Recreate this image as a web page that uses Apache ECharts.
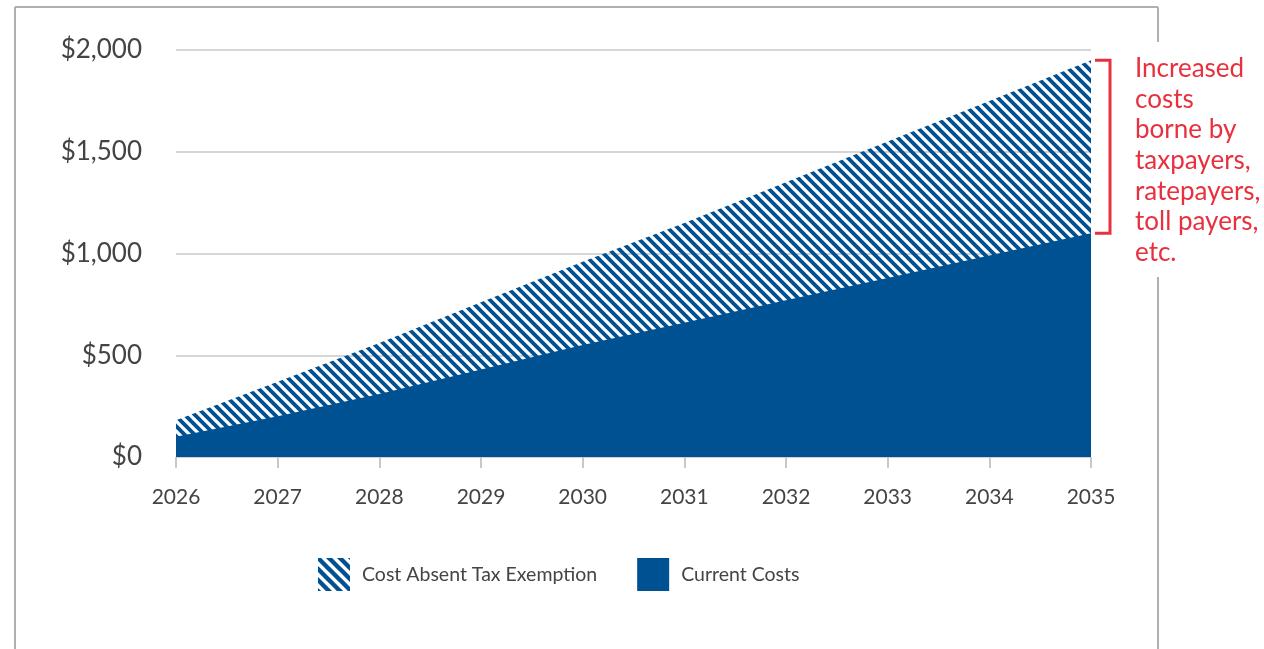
<!DOCTYPE html>
<html><head><meta charset="utf-8">
<script src="https://cdn.jsdelivr.net/npm/echarts@6/dist/echarts.min.js"></script>
<style>html,body{margin:0;padding:0;background:#fff}#c{width:1264px;height:649px}</style>
</head><body><div id="c"></div>
<script>
const years = ['2026','2027','2028','2029','2030','2031','2032','2033','2034','2035'];
const costAbsentExemption = [180, 370, 560, 760, 960, 1150, 1350, 1550, 1750, 1950];
const currentCosts = [100, 200, 310, 430, 550, 660, 770, 880, 990, 1100];
const yMin = 0, yMax = 2000, yStep = 500;
const seriesNames = ['Cost Absent Tax Exemption', 'Current Costs'];
const annotationText = ['Increased', 'costs', 'borne by', 'taxpayers,', 'ratepayers,', 'toll payers,', 'etc.'];

const BLUE = '#005192';
const RED = '#e8313f';
const TEXT = '#444444';
const FONT = 'Lato, "Open Sans", sans-serif';

function hatch(period, width) {
  const c = document.createElement('canvas');
  c.width = period; c.height = period;
  const g = c.getContext('2d');
  g.strokeStyle = BLUE; g.lineWidth = width; g.lineCap = 'square';
  for (const k of [-period, 0, period]) {
    g.beginPath(); g.moveTo(-2, k - 2); g.lineTo(period + 2, period + k + 2); g.stroke();
  }
  return c;
}
const areaPattern = { image: hatch(10, 3.8), repeat: 'repeat' };
const legendPattern = { image: hatch(11, 4.4), repeat: 'repeat' };

const chart = echarts.init(document.getElementById('c'), null, { renderer: 'canvas' });
chart.setOption({
  animation: false,
  backgroundColor: '#fff',
  textStyle: { fontFamily: FONT },
  grid: { left: 176, right: 173, top: 50, bottom: 192 },
  xAxis: {
    type: 'category', data: years, boundaryGap: false,
    axisLine: { show: true, lineStyle: { color: '#d0d0d0', width: 1 } },
    axisTick: { show: true, length: 11, lineStyle: { color: '#c8c8c8', width: 2 } },
    axisLabel: { color: TEXT, fontSize: 21, margin: 30, fontFamily: FONT }
  },
  yAxis: {
    type: 'value', min: yMin, max: yMax, interval: yStep,
    axisLine: { show: false }, axisTick: { show: false },
    splitLine: { lineStyle: { color: '#d6d6d6', width: 2 } },
    axisLabel: { color: TEXT, fontSize: 26, margin: 34, fontFamily: FONT,
      formatter: v => '$' + v.toLocaleString('en-US') }
  },
  legend: {
    left: 318, top: 558, padding: 0, itemWidth: 32, itemHeight: 33, itemGap: 40, icon: 'rect',
    textStyle: { color: TEXT, fontSize: 19.5, fontFamily: FONT, padding: [0, 0, 0, 7] },
    data: [
      { name: seriesNames[0], itemStyle: { color: legendPattern } },
      { name: seriesNames[1], itemStyle: { color: BLUE } }
    ]
  },
  series: [
    { name: seriesNames[0], type: 'line', data: costAbsentExemption, showSymbol: false,
      lineStyle: { width: 0 }, itemStyle: { color: BLUE },
      areaStyle: { color: areaPattern, opacity: 1 }, z: 2 },
    { name: seriesNames[1], type: 'line', data: currentCosts, showSymbol: false,
      lineStyle: { width: 0 }, itemStyle: { color: BLUE },
      areaStyle: { color: BLUE, opacity: 1 }, z: 3 }
  ]
});

const last = years.length - 1;
const pTop = chart.convertToPixel({ gridIndex: 0 }, [years[last], costAbsentExemption[last]]);
const pBot = chart.convertToPixel({ gridIndex: 0 }, [years[last], currentCosts[last]]);
const bx = pTop[0] + 19;
const lineH = 30.7;
const textX = bx + 25;
const textY0 = pTop[1] - 7;
const frame = { style: { stroke: '#b0b0b0', lineWidth: 2 } };
chart.setOption({
  graphic: [
    { type: 'polyline', shape: { points: [[pTop[0] + 4, pTop[1]], [bx, pTop[1]], [bx, pBot[1]], [pTop[0] + 4, pBot[1]]] },
      style: { stroke: RED, lineWidth: 3, fill: null } },
    { type: 'text', left: textX, top: textY0,
      style: { text: annotationText.join('\n'), fill: RED, fontSize: 26, fontFamily: FONT, lineHeight: lineH } },
    Object.assign({ type: 'line', shape: { x1: 15, y1: 7, x2: 1158, y2: 7 } }, frame),
    Object.assign({ type: 'line', shape: { x1: 15, y1: 7, x2: 15, y2: 649 } }, frame),
    Object.assign({ type: 'line', shape: { x1: 1158, y1: 7, x2: 1158, y2: 42 } }, frame),
    Object.assign({ type: 'line', shape: { x1: 1158, y1: 277, x2: 1158, y2: 649 } }, frame)
  ]
});
</script></body></html>
